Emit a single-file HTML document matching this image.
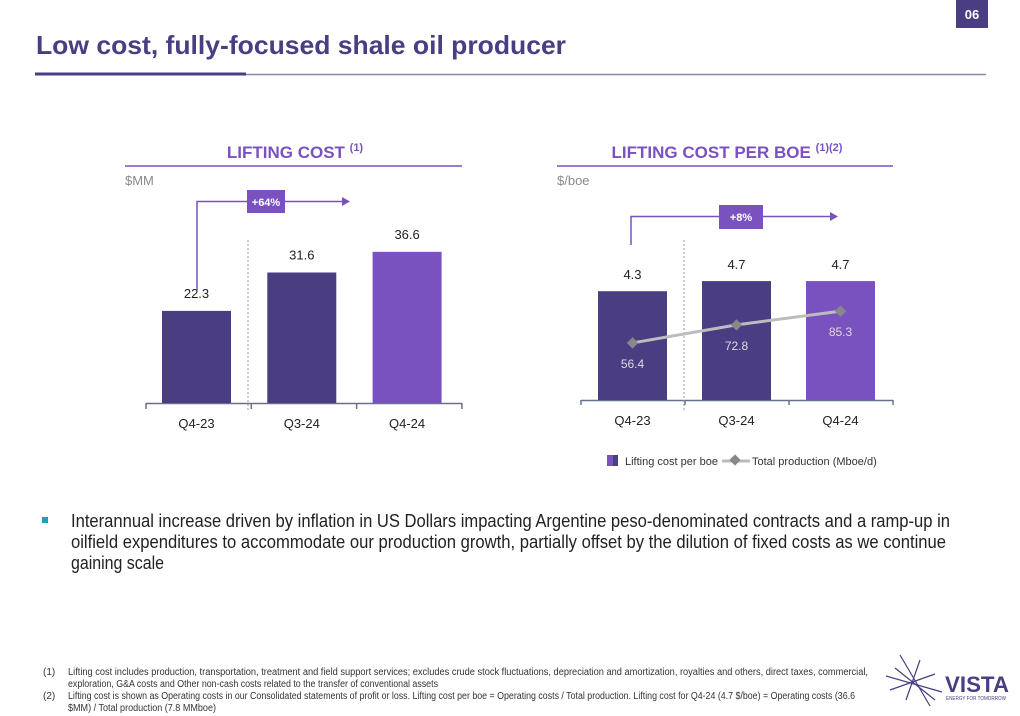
<!DOCTYPE html>
<html><head><meta charset="utf-8"><style>
html,body{margin:0;padding:0;background:#fff;}
svg{display:block;font-family:"Liberation Sans",sans-serif;}
</style></head><body>
<svg id="s" width="1020" height="716" viewBox="0 0 1020 716">
<rect x="956" y="0" width="32" height="28" fill="#4a3d82"/>
<text x="972" y="19" text-anchor="middle" fill="#fff" font-size="13" font-weight="bold">06</text>
<text x="36" y="54" fill="#4a3d82" font-size="26" font-weight="bold" textLength="530" lengthAdjust="spacingAndGlyphs">Low cost, fully-focused shale oil producer</text>
<line x1="214" y1="74.5" x2="986" y2="74.5" stroke="#8a84aa" stroke-width="1.5"/>
<line x1="35" y1="74" x2="246" y2="74" stroke="#4a3d82" stroke-width="3"/>

<text x="295" y="158" text-anchor="middle" fill="#7a52c0" font-size="17" font-weight="bold">LIFTING COST <tspan font-size="11" dy="-7">(1)</tspan></text>
<line x1="125" y1="166" x2="462" y2="166" stroke="#7a52c0" stroke-width="1.5"/>
<text x="125" y="185" fill="#8a8a8a" font-size="13">$MM</text>

<text x="727" y="158" text-anchor="middle" fill="#7a52c0" font-size="17" font-weight="bold">LIFTING COST PER BOE <tspan font-size="11" dy="-7">(1)(2)</tspan></text>
<line x1="557" y1="166" x2="893" y2="166" stroke="#7a52c0" stroke-width="1.5"/>
<text x="557" y="185" fill="#8a8a8a" font-size="13">$/boe</text>

<g id="left"></g>
<g id="right"></g>

<rect x="607" y="455" width="11" height="11" fill="#7a52c0"/>
<rect x="613" y="455" width="5" height="11" fill="#4a3d82"/>
<text x="625" y="465" font-size="11" fill="#333">Lifting cost per boe</text>
<line x1="722" y1="461" x2="750" y2="461" stroke="#bbb" stroke-width="3"/>
<rect x="731" y="456" width="8" height="8" fill="#888" transform="rotate(45 735 460)"/>
<text x="752" y="465" font-size="11" fill="#333">Total production (Mboe/d)</text>

<rect x="42" y="517" width="6" height="6" fill="#1aa0b8"/>
<g font-size="18" fill="#222">
<text x="71" y="527" textLength="879" lengthAdjust="spacingAndGlyphs">Interannual increase driven by inflation in US Dollars impacting Argentine peso-denominated contracts and a ramp-up in</text>
<text x="71" y="548" textLength="875" lengthAdjust="spacingAndGlyphs">oilfield expenditures to accommodate our production growth, partially offset by the dilution of fixed costs as we continue</text>
<text x="71" y="569" textLength="93" lengthAdjust="spacingAndGlyphs">gaining scale</text>
</g>
<g font-size="10" fill="#333">
<text x="43" y="675">(1)</text>
<text x="68" y="675" textLength="800" lengthAdjust="spacingAndGlyphs">Lifting cost includes production, transportation, treatment and field support services; excludes crude stock fluctuations, depreciation and amortization, royalties and others, direct taxes, commercial,</text>
<text x="68" y="687" textLength="370" lengthAdjust="spacingAndGlyphs">exploration, G&amp;A costs and Other non-cash costs related to the transfer of conventional assets</text>
<text x="43" y="699">(2)</text>
<text x="68" y="699" textLength="787" lengthAdjust="spacingAndGlyphs">Lifting cost is shown as Operating costs in our Consolidated statements of profit or loss. Lifting cost per boe = Operating costs / Total production. Lifting cost for Q4-24 (4.7 $/boe) = Operating costs (36.6</text>
<text x="68" y="711" textLength="148" lengthAdjust="spacingAndGlyphs">$MM) / Total production (7.8 MMboe)</text>
</g>

<g>
<g stroke="#4a3d82" stroke-width="1.2">
<line x1="886" y1="676" x2="942" y2="692"/><line x1="900" y1="655" x2="930" y2="706"/><line x1="920" y1="660" x2="906" y2="700"/><line x1="890" y1="690" x2="935" y2="674"/><line x1="895" y1="668" x2="935" y2="700"/>
</g>
<text x="945" y="692" font-size="22" font-weight="bold" fill="#4a3d82" textLength="64" lengthAdjust="spacingAndGlyphs">VISTA</text>
<text x="946" y="700" font-size="5" fill="#4a3d82" textLength="60" lengthAdjust="spacingAndGlyphs">ENERGY FOR TOMORROW</text>
</g>
</svg>
<script>
const cats = ["Q4-23","Q3-24","Q4-24"];
const liftingCost = [22.3, 31.6, 36.6];
const costPerBoe = [4.3, 4.7, 4.7];
const production = [56.4, 72.8, 85.3];
const NS = "http://www.w3.org/2000/svg";
function mk(parent, tag, attrs, txt){const e=document.createElementNS(NS,tag);for(const k in attrs)e.setAttribute(k,attrs[k]);if(txt!==undefined)e.textContent=txt;parent.appendChild(e);return e;}
const colors=["#4a3d82","#4a3d82","#7a52c0"];

// left chart
const L=document.getElementById("left");
const lBase=403, lScale=4.13, lX0=146, lBand=105.3;
const lx=i=>lX0+lBand*i+16;
mk(L,"line",{x1:lX0,y1:lBase+0.5,x2:462,y2:lBase+0.5,stroke:"#6a6f8f","stroke-width":1.5});
for(let i=0;i<=3;i++){const t=mk(L,"line",{x1:lX0+lBand*i,y1:lBase,x2:lX0+lBand*i,y2:lBase+6,stroke:"#6a6f8f","stroke-width":1.5});}
mk(L,"line",{x1:248,y1:240,x2:248,y2:410,stroke:"#999","stroke-dasharray":"2,2"});
liftingCost.forEach((v,i)=>{
 const h=v*lScale;
 const b=mk(L,"rect",{x:lx(i),y:lBase-h,width:69,height:h,fill:colors[i]});
 
 
 const t=mk(L,"text",{x:lx(i)+34.5,y:lBase-h-13,"text-anchor":"middle","font-size":13,fill:"#222"},v.toFixed(1));
 
 
 const c=mk(L,"text",{x:lx(i)+34.5,y:428,"text-anchor":"middle","font-size":13,fill:"#222"},cats[i]);
 
 
});
mk(L,"polyline",{points:"197,290 197,201.5 342,201.5",fill:"none",stroke:"#7a52c0","stroke-width":1.5});
mk(L,"polygon",{points:"342,197 350,201.5 342,206",fill:"#7a52c0"});
mk(L,"rect",{x:247,y:190,width:38,height:23,fill:"#7a52c0"});
const g1=mk(L,"text",{x:266,y:206,"text-anchor":"middle","font-size":11,"font-weight":"bold",fill:"#fff"},"+64%");



// right chart
const R=document.getElementById("right");
const rBase=400, rScale=25.3, rX0=581, rBand=104;
const rx=i=>rX0+rBand*i+17;
const py=v=>405-1.1*v;
mk(R,"line",{x1:rX0,y1:rBase+0.5,x2:893,y2:rBase+0.5,stroke:"#6a6f8f","stroke-width":1.5});
for(let i=0;i<=3;i++){mk(R,"line",{x1:rX0+rBand*i,y1:rBase,x2:rX0+rBand*i,y2:rBase+5,stroke:"#6a6f8f","stroke-width":1.5});}
mk(R,"line",{x1:684,y1:240,x2:684,y2:412,stroke:"#999","stroke-dasharray":"2,2"});
costPerBoe.forEach((v,i)=>{
 const h=v*rScale;
 const b=mk(R,"rect",{x:rx(i),y:rBase-h,width:69,height:h,fill:colors[i]});
 
 
 const t=mk(R,"text",{x:rx(i)+34.5,y:rBase-h-12,"text-anchor":"middle","font-size":13,fill:"#222"},v.toFixed(1));
 
 
 const c=mk(R,"text",{x:rx(i)+34.5,y:425,"text-anchor":"middle","font-size":13,fill:"#222"},cats[i]);
 
 
});
const pts=production.map((v,i)=>(rx(i)+34.5)+","+py(v)).join(" ");
const pl=mk(R,"polyline",{points:pts,fill:"none",stroke:"#bdbdbd","stroke-width":3});


production.forEach((v,i)=>{
 const cx=rx(i)+34.5, cy=py(v);
 const m=mk(R,"rect",{x:cx-4,y:cy-4,width:8,height:8,fill:"#888",transform:`rotate(45 ${cx} ${cy})`});
 
 
 const t=mk(R,"text",{x:cx,y:cy+25,"text-anchor":"middle","font-size":12,fill:"#ddd"},v.toFixed(1));
 
 
});
mk(R,"polyline",{points:"631,245 631,216.5 830,216.5",fill:"none",stroke:"#7a52c0","stroke-width":1.5});
mk(R,"polygon",{points:"830,212 838,216.5 830,221",fill:"#7a52c0"});
mk(R,"rect",{x:719,y:205,width:44,height:24,fill:"#7a52c0"});
const g2=mk(R,"text",{x:741,y:221,"text-anchor":"middle","font-size":11,"font-weight":"bold",fill:"#fff"},"+8%");


</script>
</body></html>
